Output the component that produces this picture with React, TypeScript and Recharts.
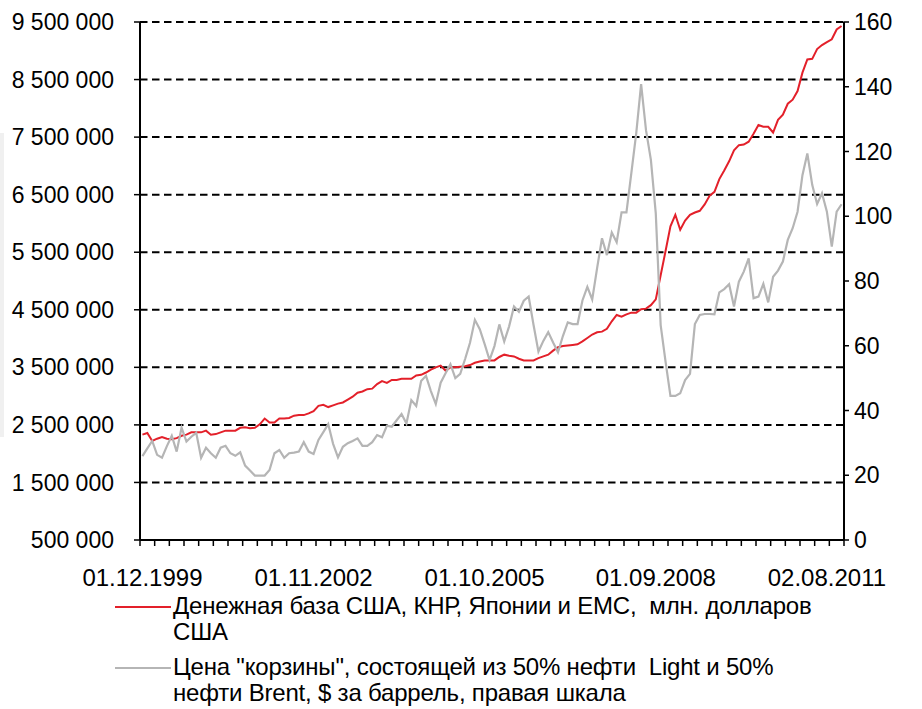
import React from 'react';
import { LineChart, Line, XAxis, YAxis, CartesianGrid } from 'recharts';

// Monthly observations, Dec 1999 .. Nov 2011 (144 months)
const moneyBase: number[] = [
  2330000, 2360000, 2220000, 2260000, 2290000, 2260000, 2250000, 2270000, 2310000, 2330000,
  2370000, 2370000, 2370000, 2400000, 2330000, 2340000, 2370000, 2400000, 2400000, 2400000,
  2450000, 2460000, 2440000, 2450000, 2510000, 2610000, 2540000, 2540000, 2610000, 2610000,
  2620000, 2660000, 2670000, 2670000, 2700000, 2740000, 2830000, 2850000, 2810000, 2840000,
  2870000, 2890000, 2940000, 2990000, 3060000, 3080000, 3120000, 3130000, 3210000, 3260000,
  3230000, 3280000, 3280000, 3300000, 3300000, 3300000, 3360000, 3370000, 3410000, 3460000,
  3500000, 3530000, 3440000, 3500000, 3500000, 3510000, 3520000, 3540000, 3580000, 3600000,
  3620000, 3620000, 3620000, 3680000, 3720000, 3700000, 3690000, 3650000, 3620000, 3620000,
  3620000, 3660000, 3690000, 3720000, 3790000, 3850000, 3870000, 3880000, 3890000, 3900000,
  3950000, 4010000, 4070000, 4110000, 4120000, 4170000, 4300000, 4410000, 4380000, 4420000,
  4450000, 4450000, 4510000, 4520000, 4580000, 4680000, 5100000, 5520000, 5950000, 6150000,
  5890000, 6050000, 6150000, 6190000, 6220000, 6330000, 6480000, 6550000, 6770000, 6920000,
  7080000, 7270000, 7360000, 7370000, 7420000, 7560000, 7710000, 7680000, 7680000, 7580000,
  7800000, 7890000, 8080000, 8150000, 8300000, 8620000, 8850000, 8860000, 9030000, 9100000,
  9150000, 9200000, 9370000, 9430000,
];

const oilPrice: number[] = [
  25.9, 28.3, 30.6, 26.3, 25.4, 29.0, 32.2, 27.3, 34.7, 30.4,
  31.9, 33.1, 25.4, 28.5, 26.8, 25.4, 28.5, 29.1, 26.8, 26.0,
  27.1, 23.0, 21.5, 19.9, 19.9, 19.9, 21.6, 26.8, 27.8, 25.4,
  26.8, 27.0, 27.3, 30.2, 27.3, 26.6, 30.9, 33.3, 35.8, 29.7,
  25.5, 28.8, 29.9, 30.6, 31.4, 29.1, 29.1, 30.2, 32.4, 31.7,
  35.3, 35.0, 37.0, 38.9, 36.0, 43.2, 41.4, 49.1, 50.7, 46.0,
  42.0, 48.6, 51.5, 54.3, 50.0, 51.3, 55.9, 60.9, 68.0, 65.1,
  60.5, 55.6, 59.9, 66.6, 61.3, 66.0, 72.1, 70.5, 73.9, 75.2,
  66.4, 58.2, 61.5, 64.2, 61.0, 58.0, 63.0, 67.2, 66.7, 66.7,
  74.0, 78.2, 74.3, 84.0, 93.2, 88.0, 95.0, 92.0, 101.2, 101.2,
  113.3, 125.6, 140.8, 126.6, 117.4, 100.9, 66.4, 55.1, 44.5, 44.5,
  45.3, 49.4, 51.3, 66.7, 69.5, 69.8, 69.8, 69.7, 76.5, 77.5,
  79.0, 72.1, 79.8, 82.9, 87.0, 74.7, 75.2, 79.1, 73.4, 81.3,
  83.2, 86.0, 92.7, 96.3, 101.4, 112.7, 119.4, 109.7, 103.8, 107.1,
  101.4, 90.6, 101.4, 103.7,
];

const xLabelIdx: number[] = [0, 35, 70, 105, 140];
const xLabels: string[] = ['01.12.1999', '01.11.2002', '01.10.2005', '01.09.2008', '02.08.2011'];
const leftTicks: number[] = [500000, 1500000, 2500000, 3500000, 4500000, 5500000, 6500000, 7500000, 8500000, 9500000];
const rightTicks: number[] = [0, 20, 40, 60, 80, 100, 120, 140, 160];
const seriesNameLines: string[][] = [
  ['Денежная база США, КНР, Японии и ЕМС,  млн. долларов', 'США'],
  ['Цена "корзины", состоящей из 50% нефти  Light и 50%', 'нефти Brent, $ за баррель, правая шкала'],
];
const seriesColors: string[] = ['#E3202A', '#B5B5B5'];

const data = moneyBase.map((v, i) => ({ idx: i, money: v, oil: oilPrice[i] }));
const tickMarks = Array.from({ length: 49 }, (_, k) => -0.5 + 3 * k);
const xTicks = [...tickMarks, ...xLabelIdx].sort((a, b) => a - b);

const FONT = '"Liberation Sans", Arial, sans-serif';

const fmtSpace = (v: number) => String(v).replace(/\B(?=(\d{3})+(?!\d))/g, ' ');

const XTick = (props: any) => {
  const { x, y, payload } = props;
  const v = payload.value;
  const li = xLabelIdx.indexOf(v);
  if (li >= 0) {
    return (
      <text x={x} y={y + 46} textAnchor="middle" fontSize={24} fill="#000" fontFamily={FONT}>
        {xLabels[li]}
      </text>
    );
  }
  return <line x1={x} x2={x} y1={y} y2={y + 6} stroke="#000" strokeWidth={1.5} />;
};

export default function App() {
  return (
    <div style={{ position: 'absolute', left: 0, top: 0, width: 922, height: 709, background: '#fff', fontFamily: FONT }}>
      <div style={{ position: 'absolute', left: 0, top: 133, width: 4, height: 304, background: '#f0f0f0' }} />
      <LineChart width={922} height={709} data={data} margin={{ top: 22, right: 0, left: 0, bottom: 109 }}>
        <CartesianGrid yAxisId="left" vertical={false} stroke="#000" strokeWidth={2} strokeDasharray="7.5 4.5" />
        <XAxis
          dataKey="idx"
          type="number"
          domain={[-0.5, 143.5]}
          ticks={xTicks}
          interval={0}
          height={60}
          tickSize={0}
          tickMargin={0}
          tickLine={false}
          tick={<XTick />}
          axisLine={{ stroke: '#000', strokeWidth: 2 }}
        />
        <YAxis
          yAxisId="left"
          orientation="left"
          domain={[500000, 9500000]}
          ticks={leftTicks}
          interval={0}
          width={140}
          tickSize={6}
          tickMargin={20}
          tickFormatter={fmtSpace}
          tick={{ fill: '#000', fontSize: 23, fontFamily: FONT }}
          tickLine={{ stroke: '#000', strokeWidth: 1.5 }}
          axisLine={{ stroke: '#000', strokeWidth: 2 }}
        />
        <YAxis
          yAxisId="right"
          orientation="right"
          domain={[0, 160]}
          ticks={rightTicks}
          interval={0}
          width={78}
          tickSize={5}
          tickMargin={5}
          tick={{ fill: '#000', fontSize: 23, fontFamily: FONT }}
          tickLine={{ stroke: '#000', strokeWidth: 1.5 }}
          axisLine={{ stroke: '#000', strokeWidth: 2 }}
        />
        <Line yAxisId="left" type="linear" dataKey="money" stroke={seriesColors[0]} strokeWidth={2} dot={false} isAnimationActive={false} />
        <Line yAxisId="right" type="linear" dataKey="oil" stroke={seriesColors[1]} strokeWidth={2.2} dot={false} isAnimationActive={false} />
      </LineChart>
      {seriesNameLines.map((lines, i) => (
        <div key={i} style={{ position: 'absolute', left: 115, top: 593 + i * 61, display: 'flex', alignItems: 'flex-start' }}>
          <div style={{ width: 56, height: 2, background: seriesColors[i], marginTop: 13, flexShrink: 0 }} />
          <div style={{ marginLeft: 2, fontSize: 24, lineHeight: '26px', color: '#000', letterSpacing: '-0.2px', whiteSpace: 'pre' }}>
            {lines.map((t, j) => (
              <div key={j}>{t}</div>
            ))}
          </div>
        </div>
      ))}
    </div>
  );
}
